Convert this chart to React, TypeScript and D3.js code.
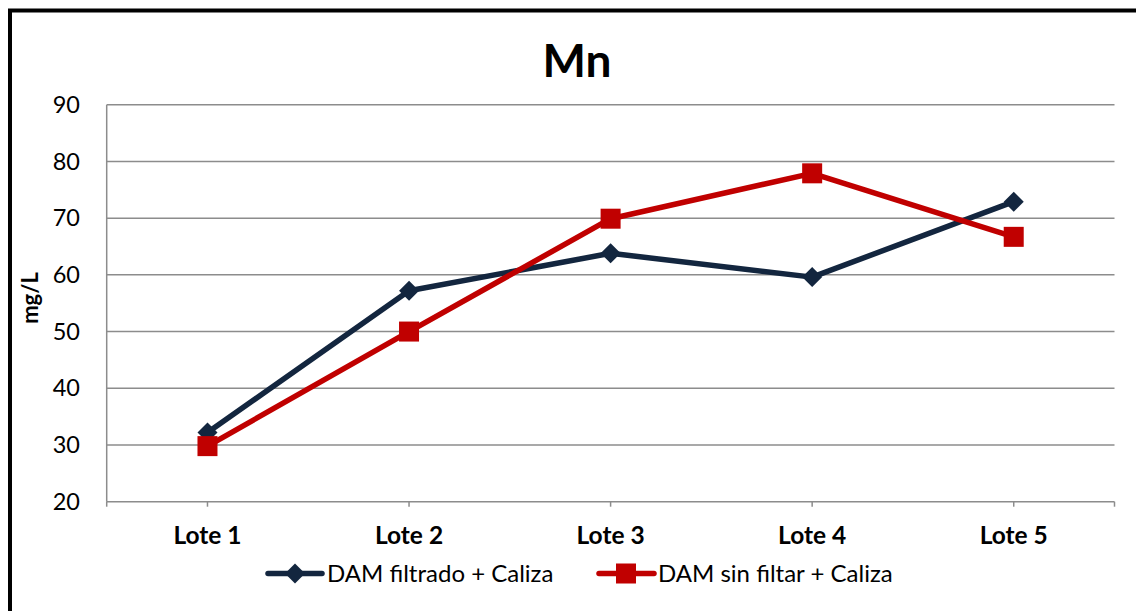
import React from "react";
import * as d3 from "d3";

const categories = ["Lote 1", "Lote 2", "Lote 3", "Lote 4", "Lote 5"];
const filtrado = [32.2, 57.2, 63.8, 59.6, 72.9];
const sinFiltrar = [29.8, 50.0, 69.9, 77.9, 66.7];
const yTicks = [20, 30, 40, 50, 60, 70, 80, 90];
const seriesNames = ["DAM filtrado + Caliza", "DAM sin filtar + Caliza"];

const W = 1136;
const H = 611;
const plot = { left: 106.7, right: 1114.5, top: 104.7, bottom: 501.7 };
const navy = "#13263F";
const red = "#C00000";
const grid = "#8C8C8C";
const font = "Lato, 'Open Sans', sans-serif";

export default function App() {
  const x = d3
    .scalePoint<string>()
    .domain(categories)
    .range([plot.left, plot.right])
    .padding(0.5);
  const y = d3.scaleLinear().domain([20, 90]).range([plot.bottom, plot.top]);
  const line = d3
    .line<number>()
    .x((_, i) => x(categories[i]) as number)
    .y((d) => y(d));

  const diamond = (cx: number, cy: number, r: number) =>
    `M${cx},${cy - r}L${cx + r},${cy}L${cx},${cy + r}L${cx - r},${cy}Z`;

  const tickXs = [plot.left, ...categories.map((c) => x(c) as number), plot.right];

  return (
    <svg
      width={W}
      height={H}
      style={{ position: "absolute", left: 0, top: 0, background: "#fff" }}
    >
      <rect x={0} y={0} width={W} height={H} fill="#fff" />
      <rect x={10} y={10.5} width={1160} height={640} fill="none" stroke="#000" strokeWidth={4} />
      <text x={577} y={77} textAnchor="middle" fontFamily={font} fontWeight="bold" fontSize={46} fill="#000">
        Mn
      </text>
      {yTicks.map((t) => (
        <g key={t}>
          <line x1={plot.left} x2={plot.right} y1={y(t)} y2={y(t)} stroke={grid} strokeWidth={1.5} />
          <text x={80} y={y(t)} dy="0.35em" textAnchor="end" fontFamily={font} fontSize={23.5} fill="#000">
            {t}
          </text>
        </g>
      ))}
      <line x1={plot.left} x2={plot.left} y1={plot.top} y2={plot.bottom} stroke={grid} strokeWidth={1.5} />
      {tickXs.map((tx, i) => (
        <line key={i} x1={tx} x2={tx} y1={plot.bottom} y2={plot.bottom + 5} stroke={grid} strokeWidth={1.5} />
      ))}
      {categories.map((c) => (
        <text key={c} x={x(c)} y={544} textAnchor="middle" fontFamily={font} fontWeight="bold" fontSize={24.5} fill="#000">
          {c}
        </text>
      ))}
      <text
        transform={`translate(38,298) rotate(-90)`}
        textAnchor="middle"
        fontFamily={font}
        fontWeight="bold"
        fontSize={22}
        fill="#000"
      >
        mg/L
      </text>
      <path d={line(filtrado) || ""} fill="none" stroke={navy} strokeWidth={5.5} strokeLinejoin="round" />
      <path d={line(sinFiltrar) || ""} fill="none" stroke={red} strokeWidth={5.5} strokeLinejoin="round" />
      {filtrado.map((v, i) => (
        <path key={"d" + i} d={diamond(x(categories[i]) as number, y(v), 10)} fill={navy} />
      ))}
      {sinFiltrar.map((v, i) => (
        <rect key={"s" + i} x={(x(categories[i]) as number) - 10} y={y(v) - 10} width={20} height={20} fill={red} />
      ))}
      {/* legend */}
      <line x1={268} x2={322} y1={573.5} y2={573.5} stroke={navy} strokeWidth={5.5} strokeLinecap="round" />
      <path d={diamond(295, 573.5, 10)} fill={navy} />
      <text x={327} y={573.5} dy="0.35em" fontFamily={font} fontSize={24} fill="#000">
        {seriesNames[0]}
      </text>
      <line x1={599} x2={654} y1={573.5} y2={573.5} stroke={red} strokeWidth={5.5} strokeLinecap="round" />
      <rect x={616} y={563.5} width={20} height={20} fill={red} />
      <text x={658} y={573.5} dy="0.35em" fontFamily={font} fontSize={24} fill="#000">
        {seriesNames[1]}
      </text>
    </svg>
  );
}
